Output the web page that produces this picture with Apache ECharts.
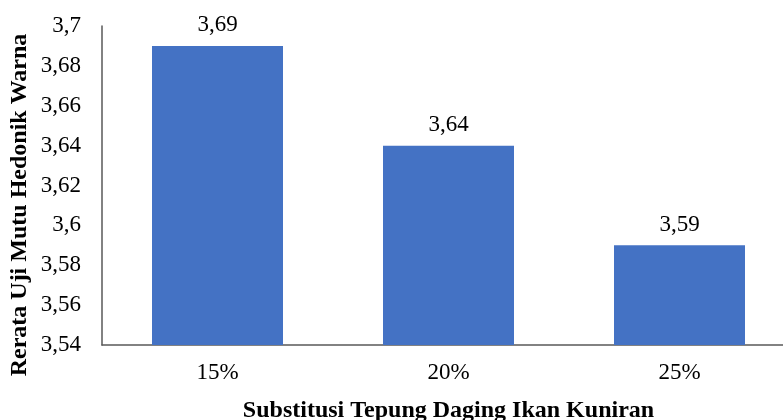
<!DOCTYPE html>
<html>
<head>
<meta charset="utf-8">
<script src="https://cdn.jsdelivr.net/npm/echarts@6/dist/echarts.min.js"></script>
<style>
  html, body { margin: 0; padding: 0; background: #fff; }
  #chart { width: 783px; height: 420px; }
</style>
</head>
<body>
<div id="chart"></div>
<script>
// Mean hedonic colour scores per substitution level
const categories = ['15%', '20%', '25%'];
const scores = [3.69, 3.64, 3.59];
const yTicks = { min: 3.54, max: 3.7, step: 0.02 };
const xTitle = 'Substitusi Tepung Daging Ikan Kuniran';
const yTitle = 'Rerata Uji Mutu Hedonik Warna';

const fmt = v => String(Math.round(v * 100) / 100).replace('.', ',');
const serif = 'Liberation Serif';

const chart = echarts.init(document.getElementById('chart'), null, { renderer: 'canvas' });
chart.setOption({
  animation: false,
  grid: { left: 102, right: -12, top: 26, bottom: 75, containLabel: false, outerBoundsMode: 'none' },
  graphic: [{
    type: 'text',
    x: 20,
    y: 205,
    rotation: Math.PI / 2,
    style: {
      text: yTitle,
      font: 'bold 24px "Liberation Serif"',
      fill: '#000',
      textAlign: 'center',
      textVerticalAlign: 'middle'
    }
  }],
  xAxis: {
    type: 'category',
    data: categories,
    name: xTitle,
    nameLocation: 'middle',
    nameGap: 54,
    nameTextStyle: { fontFamily: serif, fontWeight: 'bold', fontSize: 24, color: '#000' },
    axisLine: { lineStyle: { color: '#595959', width: 1.5 } },
    axisTick: { show: false },
    axisLabel: { fontFamily: serif, fontSize: 23, color: '#000', margin: 16 }
  },
  yAxis: {
    type: 'value',
    min: yTicks.min,
    max: yTicks.max,
    interval: yTicks.step,
    axisLine: { show: true, lineStyle: { color: '#595959', width: 1.5 } },
    axisTick: { show: false },
    splitLine: { show: false },
    axisLabel: { fontFamily: serif, fontSize: 23, color: '#000', margin: 21, formatter: fmt }
  },
  series: [{
    type: 'bar',
    data: scores,
    barWidth: 131,
    itemStyle: { color: '#4472C4' },
    label: {
      show: true,
      position: 'top',
      distance: 9,
      fontFamily: serif,
      fontSize: 23,
      color: '#000',
      formatter: p => fmt(p.value)
    }
  }]
});
</script>
</body>
</html>
